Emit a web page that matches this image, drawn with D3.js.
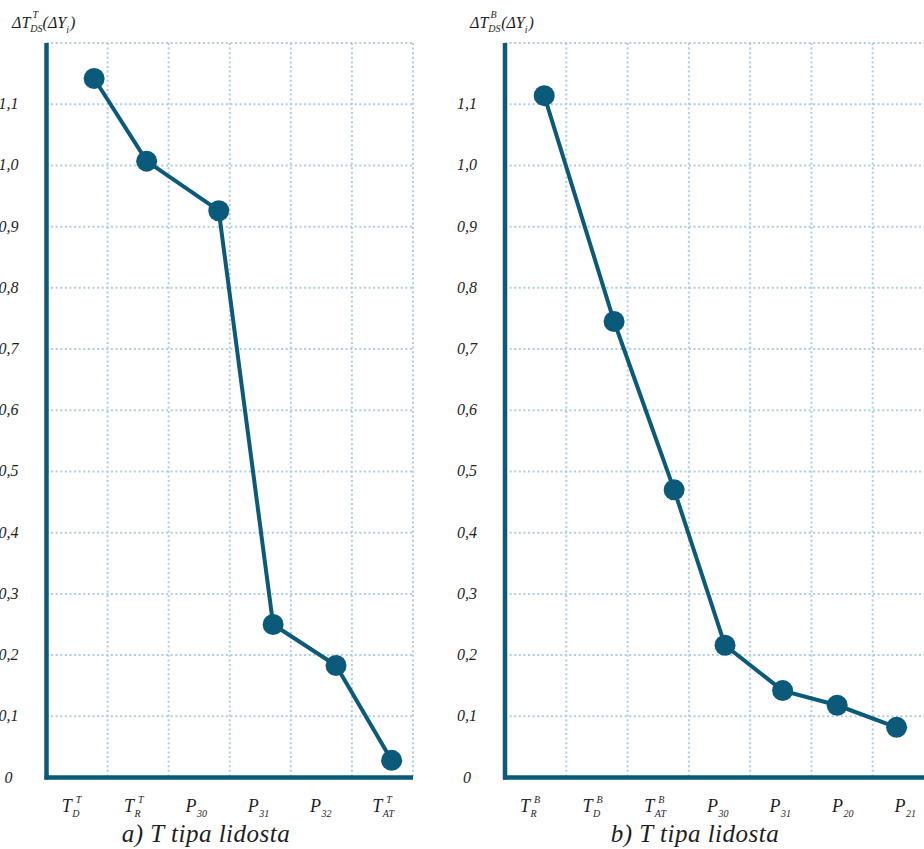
<!DOCTYPE html>
<html>
<head>
<meta charset="utf-8">
<script src="https://cdn.jsdelivr.net/npm/d3@7"></script>
<style>
  body { margin: 0; background: #fff; }
</style>
</head>
<body>
<svg width="924" height="849"></svg>
<script>
// y ticks shown on both charts
var yTicks = [0, 0.1, 0.2, 0.3, 0.4, 0.5, 0.6, 0.7, 0.8, 0.9, 1.0, 1.1];

// a) T tipa lidosta: label = [main, subscript, superscript]
var leftLabels = [["T", "D", "T"], ["T", "R", "T"], ["P", "30", ""], ["P", "31", ""], ["P", "32", ""], ["T", "AT", "T"]];
var leftX = [0.78, 1.64, 2.82, 3.71, 4.74, 5.65];   // point position in category units
var leftValues = [1.142, 1.007, 0.926, 0.25, 0.183, 0.028];

// b) T tipa lidosta
var rightLabels = [["T", "R", "B"], ["T", "D", "B"], ["T", "AT", "B"], ["P", "30", ""], ["P", "31", ""], ["P", "20", ""], ["P", "21", ""]];
var rightX = [0.64, 1.78, 2.76, 3.59, 4.53, 5.42, 6.39];
var rightValues = [1.114, 0.745, 0.47, 0.216, 0.142, 0.118, 0.082];

function main() {
    var svg = d3.select("svg");
    var blue = "#0c5a79",
        gridColor = "#b0cde0",
        ink = "#1e1e1e";

    var y = d3.scaleLinear().domain([0, 1.2]).range([777.5, 43]);

    function label(sel, size) {
        return sel.attr("font-family", "Liberation Serif")
            .attr("font-style", "italic")
            .attr("font-size", size)
            .attr("fill", ink);
    }

    function drawChart(opts) {
        var g = svg.append("g");
        var x = d3.scaleLinear().domain([0, opts.labels.length]).range([opts.left, opts.right]);
        var xEnd = Math.min(opts.right, 924);

        // grid - horizontal
        g.selectAll(".hgrid")
            .data(d3.range(1, 13).map(function (k) { return k / 10; }))
            .enter().append("line")
            .attr("x1", opts.left).attr("x2", xEnd)
            .attr("y1", function (d) { return y(d); })
            .attr("y2", function (d) { return y(d); })
            .style("stroke", gridColor)
            .style("stroke-width", 2)
            .style("stroke-dasharray", "2,2.6");

        // grid - vertical
        g.selectAll(".vgrid")
            .data(d3.range(1, opts.labels.length + 1))
            .enter().append("line")
            .attr("x1", function (d) { return x(d); })
            .attr("x2", function (d) { return x(d); })
            .attr("y1", y(1.2)).attr("y2", y(0))
            .style("stroke", gridColor)
            .style("stroke-width", 2)
            .style("stroke-dasharray", "2,2.6");

        // axes
        g.append("line")
            .attr("x1", opts.left).attr("x2", opts.left)
            .attr("y1", y(1.2)).attr("y2", y(0) + 2)
            .style("stroke", blue).style("stroke-width", 4.5);
        g.append("line")
            .attr("x1", opts.left - 2).attr("x2", xEnd)
            .attr("y1", y(0)).attr("y2", y(0))
            .style("stroke", blue).style("stroke-width", 4.5);

        // y tick labels
        label(g.selectAll(".ytick")
            .data(yTicks)
            .enter().append("text")
            .attr("x", opts.left - 38)
            .attr("y", function (d) { return y(d) + 5; })
            .attr("text-anchor", "middle"), 16)
            .text(function (d) { return d === 0 ? "0" : d3.format(".1f")(d).replace(".", ","); });

        // x labels, centred under each column
        opts.labels.forEach(function (lab, i) {
            var lg = g.append("g");
            var m = label(lg.append("text").attr("x", 0).attr("y", 0), 18).text(lab[0]);
            var w0 = m.node().getComputedTextLength();
            var s = label(lg.append("text").attr("x", w0 + 0.5).attr("y", 5), 10).text(lab[1]);
            var w = w0 + 0.5 + s.node().getComputedTextLength();
            if (lab[2]) {
                var sp = label(lg.append("text").attr("x", w0 + 4).attr("y", -9), 10).text(lab[2]);
                w = Math.max(w, w0 + 4 + sp.node().getComputedTextLength());
            }
            lg.attr("transform", "translate(" + (x(0.41 + 1.02 * i) - w / 2) + ",812)");
        });

        // axis title: ΔT_DS^sup(ΔY_i)
        var t = label(g.append("text").attr("x", opts.titleX).attr("y", 28), 16);
        t.append("tspan").text("\u0394T");
        t.append("tspan").attr("dy", 4).attr("font-size", 10).text("DS");
        t.append("tspan").attr("dx", -10).attr("dy", -14).attr("font-size", 10).text(opts.sup);
        t.append("tspan").attr("dx", 4.5).attr("dy", 10).text("(\u0394Y");
        t.append("tspan").attr("dy", 5).attr("font-size", 10).text("i");
        t.append("tspan").attr("dx", 1).attr("dy", -5).text(")");

        // line + points
        var pts = opts.values.map(function (v, i) { return [opts.xs[i], v]; });
        g.append("path")
            .datum(pts)
            .attr("d", d3.line()
                .x(function (d) { return x(d[0]); })
                .y(function (d) { return y(d[1]); }))
            .style("fill", "none")
            .style("stroke", blue)
            .style("stroke-width", 4);
        g.selectAll(".pt")
            .data(pts)
            .enter().append("circle")
            .attr("cx", function (d) { return x(d[0]); })
            .attr("cy", function (d) { return y(d[1]); })
            .attr("r", 10.5)
            .style("fill", blue);

        // chart title
        label(g.append("text")
            .attr("x", opts.captionX).attr("y", 842)
            .attr("text-anchor", "middle"), 25)
            .attr("letter-spacing", 0.5)
            .text(opts.caption);
    }

    drawChart({
        labels: leftLabels, xs: leftX, values: leftValues,
        left: 46.5, right: 413, titleX: 12, sup: "T",
        caption: "a) T tipa lidosta", captionX: 206
    });
    drawChart({
        labels: rightLabels, xs: rightX, values: rightValues,
        left: 505, right: 934, titleX: 470, sup: "B",
        caption: "b) T tipa lidosta", captionX: 695
    });
}
main();
</script>
</body>
</html>
